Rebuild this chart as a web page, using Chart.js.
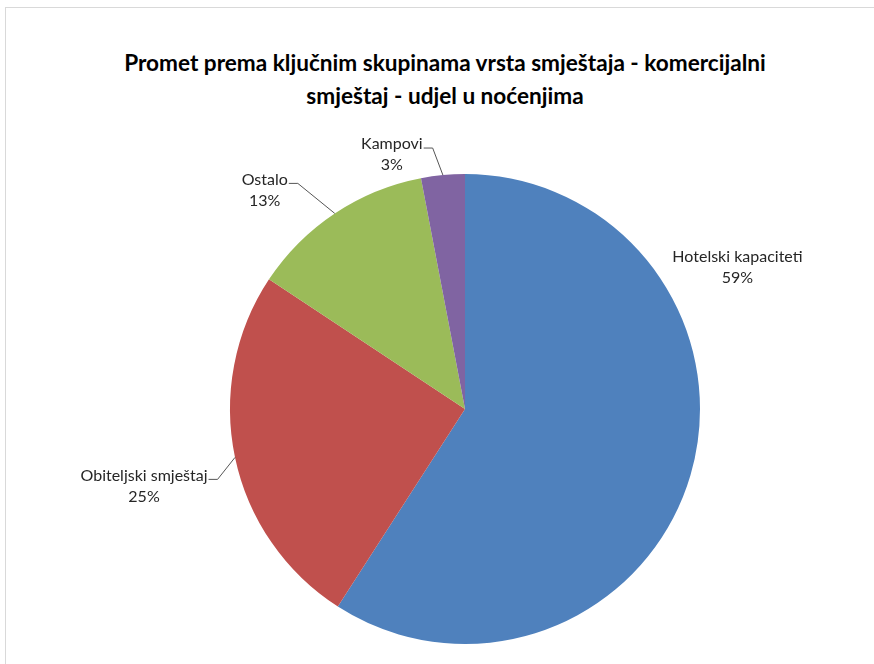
<!DOCTYPE html>
<html>
<head>
<meta charset="utf-8">
<script src="https://cdn.jsdelivr.net/npm/chart.js@4.4.1/dist/chart.umd.min.js"></script>
<style>
  html, body { margin: 0; padding: 0; background: #fff; }
  body { width: 874px; height: 664px; position: relative; overflow: hidden; }
  #frame { position: absolute; left: 5px; top: 7px; width: 900px; height: 700px;
           border-top: 1px solid #d9d9d9; border-left: 1px solid #d9d9d9; }
  #title { position: absolute; left: 0; top: 46px; width: 890px; text-align: center;
           font: bold 22.6px Lato, "Open Sans", sans-serif; line-height: 33px; color: #000; }
  #wrap { position: absolute; left: 0; top: 0; width: 874px; height: 664px; }
</style>
</head>
<body>
<div id="frame"></div>
<div id="title">Promet prema ključnim skupinama vrsta smještaja - komercijalni<br>smještaj - udjel u noćenjima</div>
<div id="wrap"><canvas id="pieChart" width="874" height="664"></canvas></div>
<script>
// Podaci (udio u noćenjima, %)
const kategorije = ["Hotelski kapaciteti", "Obiteljski smještaj", "Ostalo", "Kampovi"];
const udjeli = [59.1, 25.2, 12.7, 3.0];
const boje = ["#4F81BD", "#C0504D", "#9BBB59", "#8064A2"];

// Pomaci oznaka od ruba isječka (px) i da li se crta linija
const pomakOznake = [[47, -218], [-91, 18], [-70, -34], [-51, -31]];
const linijaOznake = [false, true, true, true];

const LABEL_FONT = '16px Lato, "Open Sans", sans-serif';

// Plugin za oznake s linijama (kao u Excelu)
const oznakePlugin = {
  id: 'oznake',
  afterDatasetsDraw(chart) {
    const ctx = chart.ctx;
    const meta = chart.getDatasetMeta(0);
    const ukupno = udjeli.reduce((a, b) => a + b, 0);
    ctx.save();
    ctx.font = LABEL_FONT;
    ctx.textAlign = 'center';
    ctx.textBaseline = 'middle';
    meta.data.forEach((arc, i) => {
      const p = arc.getProps(['x', 'y', 'startAngle', 'endAngle', 'outerRadius'], true);
      const mid = (p.startAngle + p.endAngle) / 2;
      const ax = p.x + Math.cos(mid) * p.outerRadius;
      const ay = p.y + Math.sin(mid) * p.outerRadius;
      const tx = ax + pomakOznake[i][0];
      const ty = ay + pomakOznake[i][1];
      const postotak = Math.round(udjeli[i] / ukupno * 100) + '%';

      if (linijaOznake[i]) {
        const w = ctx.measureText(kategorije[i]).width;
        const endX = tx + w / 2 + 1;
        const lineY = ty + 4;
        ctx.strokeStyle = '#555';
        ctx.lineWidth = 1;
        ctx.beginPath();
        ctx.moveTo(endX, lineY);
        ctx.lineTo(endX + 9, lineY);
        ctx.lineTo(ax, ay);
        ctx.stroke();
      }
      ctx.fillStyle = '#262626';
      ctx.fillText(kategorije[i], tx, ty);
      ctx.fillText(postotak, tx, ty + 21);
    });
    ctx.restore();
  }
};

new Chart(document.getElementById('pieChart'), {
  type: 'pie',
  data: {
    labels: kategorije,
    datasets: [{
      data: udjeli,
      backgroundColor: boje,
      borderWidth: 0
    }]
  },
  options: {
    responsive: false,
    animation: false,
    layout: { padding: { top: 174, bottom: 20, left: 100, right: 44 } },
    plugins: {
      legend: { display: false },
      title: { display: false },
      tooltip: { enabled: false }
    }
  },
  plugins: [oznakePlugin]
});
</script>
</body>
</html>
